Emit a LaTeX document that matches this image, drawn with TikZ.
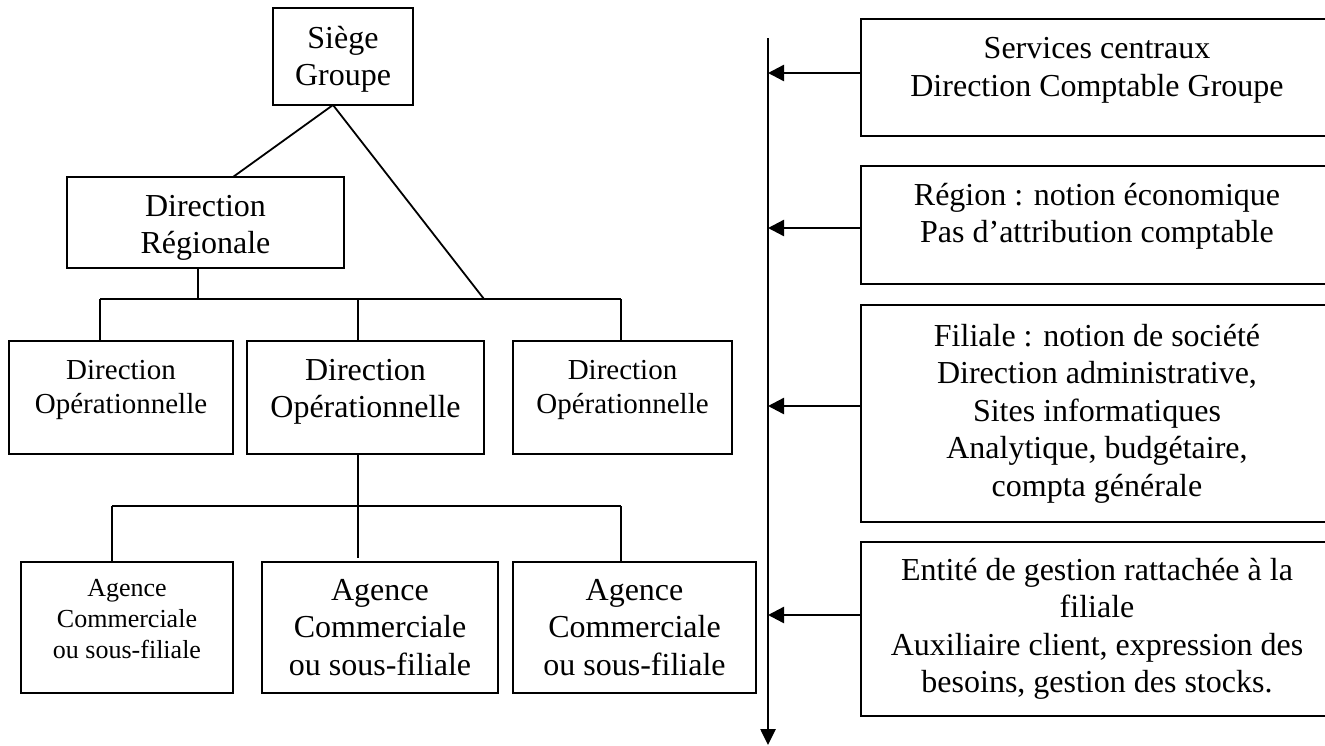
\documentclass[tikz,border=0pt]{standalone}
\usepackage{fontspec}
\setmainfont{Liberation Serif}
\usetikzlibrary{arrows.meta,calc}

% \up{h} and \dn{d}: invisible struts that lift or lower a block of lines in its box
\newcommand{\up}[1]{\rule[-#1]{0pt}{0pt}}
\newcommand{\dn}[1]{\rule{0pt}{#1}}

\tikzset{
  box/.style={draw, line width=2pt, rectangle, inner sep=0pt, align=center, anchor=center},
  big/.style={font=\fontsize{32}{37.5}\selectfont},
  mid/.style={font=\fontsize{29}{34}\selectfont},
  small/.style={font=\fontsize{26}{31}\selectfont},
  link/.style={line width=1.8pt},
  spine/.style={line width=2.6pt, -{Triangle[length=16pt,width=15pt]}},
  arr/.style={line width=2.4pt, -{Triangle[length=16pt,width=16pt]}}
}

\begin{document}
\begin{tikzpicture}[x=1pt, y=-1pt]
  \useasboundingbox (0,0) rectangle (1325,745);
  \clip (0,0) rectangle (1325,745);

  % organisation chart
  \node[box, big, minimum width=140pt, minimum height=97pt] (sg) at (343,56.5) {\dn{28pt}Siège\\Groupe};
  \node[box, big, minimum width=277pt, minimum height=91pt] (dr) at (205.5,222.5) {\dn{32pt}Direction\\Régionale};

  \node[box, mid, minimum width=224pt, minimum height=113pt] (do1) at (121,397.5) {Direction\\Opérationnelle\up{22pt}};
  \node[box, big, minimum width=237pt, minimum height=113pt] (do2) at (365.5,397.5) {Direction\\Opérationnelle\up{18pt}};
  \node[box, mid, minimum width=219pt, minimum height=113pt] (do3) at (622.5,397.5) {Direction\\Opérationnelle\up{22pt}};

  \node[box, small, minimum width=212pt, minimum height=131pt] (ag1) at (127,627.5) {Agence\\Commerciale\\ou sous-filiale\up{17pt}};
  \node[box, big, minimum width=236pt, minimum height=131pt] (ag2) at (380,627.5) {Agence\\Commerciale\\ou sous-filiale};
  \node[box, big, minimum width=243pt, minimum height=131pt] (ag3) at (634.5,627.5) {Agence\\Commerciale\\ou sous-filiale};

  % junction points of the tree
  \coordinate (sgb) at (333,105);
  \coordinate (drt) at (233,177);
  \coordinate (drb) at (198,268);
  \coordinate (b1l) at (100,299);
  \coordinate (b1m) at (358,299);
  \coordinate (b1r) at (621,299);
  \coordinate (b1s) at (484,299);
  \coordinate (drj) at (198,299);
  \coordinate (do2b) at (358,454);
  \coordinate (b2l) at (112,506);
  \coordinate (b2m) at (358,506);
  \coordinate (b2r) at (621,506);
  \coordinate (ag2t) at (358,558);

  \draw[link] (sgb) -- (drt);
  \draw[link] (sgb) -- (b1s);
  \draw[link] (drb) -- (drj);
  \draw[link] (b1l) -- (b1r);
  \draw[link] (b1l) -- (b1l |- do1.north);
  \draw[link] (b1m) -- (b1m |- do2.north);
  \draw[link] (b1r) -- (b1r |- do3.north);

  \draw[link] (do2b) -- (b2m);
  \draw[link] (b2l) -- (b2r);
  \draw[link] (b2l) -- (b2l |- ag1.north);
  \draw[link] (b2m) -- (ag2t);
  \draw[link] (b2r) -- (b2r |- ag3.north);

  % levels on the right
  \node[box, big, minimum width=472pt, minimum height=117pt] (r1) at (1097,77.5) {Services centraux\\Direction Comptable Groupe\up{21pt}};
  \node[box, big, minimum width=472pt, minimum height=118pt] (r2) at (1097,225) {Région : notion économique\\Pas d’attribution comptable\up{24pt}};
  \node[box, big, minimum width=472pt, minimum height=217pt] (r3) at (1097,413.5) {Filiale : notion de société\\Direction administrative,\\Sites informatiques\\Analytique, budgétaire,\\compta générale};
  \node[box, big, minimum width=472pt, minimum height=174pt] (r4) at (1097,629) {Entité de gestion rattachée à la\\filiale\\Auxiliaire client, expression des\\besoins, gestion des stocks.};

  \coordinate (top) at (768,38);
  \coordinate (bot) at (768,745);
  \draw[spine] (top) -- (bot);

  \draw[arr] ([yshift=4.5pt]r1.west) -- ([yshift=4.5pt]r1.west -| top);
  \draw[arr] ([yshift=-3pt]r2.west) -- ([yshift=-3pt]r2.west -| top);
  \draw[arr] ([yshift=7.5pt]r3.west) -- ([yshift=7.5pt]r3.west -| top);
  \draw[arr] ([yshift=14pt]r4.west) -- ([yshift=14pt]r4.west -| top);
\end{tikzpicture}
\end{document}
